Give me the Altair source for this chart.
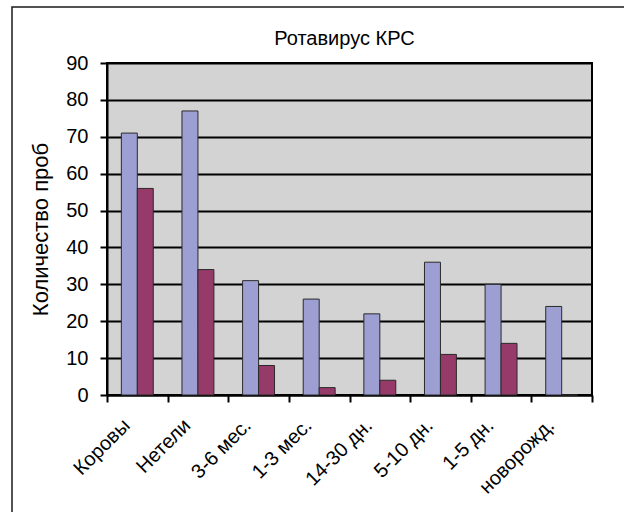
import altair as alt
import pandas as pd

# Rotavirus sample counts by animal age group, two series per group
categories = ["Коровы", "Нетели", "3-6 мес.", "1-3 мес.", "14-30 дн.", "5-10 дн.", "1-5 дн.", "новорожд."]
series_1 = [71, 77, 31, 26, 22, 36, 30, 24]
series_2 = [56, 34, 8, 2, 4, 11, 14, 0]
series_names = ["Ряд1", "Ряд2"]
series_colors = ["#9d9fd3", "#963a6a"]
chart_title = "Ротавирус КРС"
y_title = "Количество проб"

rows = []
for cat, a, b in zip(categories, series_1, series_2):
    rows.append({"group": cat, "series": series_names[0], "value": a})
    rows.append({"group": cat, "series": series_names[1], "value": b})
df = pd.DataFrame(rows)

FONT = "Liberation Sans"
FS = 20
W, H = 485, 332

bars = alt.Chart(df).mark_bar(stroke="#2a2a2a", strokeWidth=1).encode(
    x=alt.X(
        "group:N",
        sort=categories,
        title=None,
        scale=alt.Scale(paddingInner=0, paddingOuter=0),
        axis=alt.Axis(
            labelAngle=-45,
            labelAlign="right",
            labelBaseline="middle",
            labelFont=FONT,
            labelFontSize=FS,
            labelColor="black",
            labelPadding=20,
            labelOffset=-11,
            tickBand="extent",
            tickSize=7,
            tickWidth=2,
            tickColor="black",
            domainColor="black",
            domainWidth=2,
            grid=False,
        ),
    ),
    xOffset=alt.XOffset(
        "series:N",
        sort=series_names,
        scale=alt.Scale(paddingInner=0, paddingOuter=0.9),
    ),
    y=alt.Y(
        "value:Q",
        scale=alt.Scale(domain=[0, 90], nice=False),
        axis=alt.Axis(
            values=list(range(0, 91, 10)),
            title=y_title,
            titleFont=FONT,
            titleFontSize=22,
            titleFontWeight="normal",
            titleColor="black",
            titleX=-67,
            titleY=H / 2,
            titleAngle=-90,
            titleAlign="center",
            titleBaseline="middle",
            labelFont=FONT,
            labelFontSize=FS,
            labelColor="black",
            labelPadding=12,
            tickSize=7,
            tickWidth=2,
            tickColor="black",
            domainColor="black",
            domainWidth=2,
            gridColor="black",
            gridWidth=1.8,
        ),
    ),
    color=alt.Color(
        "series:N",
        sort=series_names,
        scale=alt.Scale(domain=series_names, range=series_colors),
        legend=None,
    ),
)

# outer chart frame
frame = alt.Chart(alt.Data(values=[{}])).mark_rect(
    fill=None, stroke="#1a1a1a", strokeWidth=1.5
).encode(
    x=alt.value(-95),
    x2=alt.value(560),
    y=alt.value(-56),
    y2=alt.value(480),
)

# chart heading above the plot area
heading = alt.Chart(alt.Data(values=[{}])).mark_text(
    font=FONT, fontSize=FS, color="black", align="center", baseline="alphabetic"
).encode(
    x=alt.value(W / 2 - 5),
    y=alt.value(-18),
    text=alt.value(chart_title),
)

chart = alt.layer(frame, bars, heading).properties(
    width=W,
    height=H,
    autosize=alt.AutoSizeParams(type="none"),
    padding={"left": 107, "top": 63, "right": 32, "bottom": 117},
    background="white",
).configure_view(
    fill="#d3d3d3",
    stroke="black",
    strokeWidth=2,
)

chart.save("out.html", embed_options={"renderer": "svg", "actions": False})
